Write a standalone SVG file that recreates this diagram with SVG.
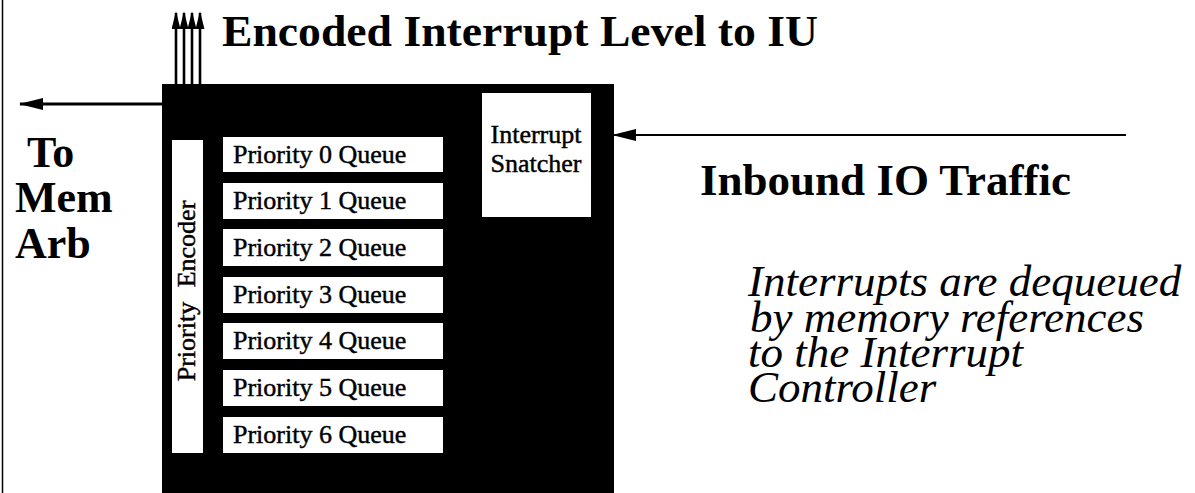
<svg xmlns="http://www.w3.org/2000/svg" width="1195" height="493" viewBox="0 0 1195 493">
  <defs>
    <style>
      .head { font-family: "Liberation Serif", "Times New Roman", serif; font-weight: bold; fill: #000; }
      .q { font-family: "Liberation Serif", "Times New Roman", serif; font-size: 26px; fill: #000; stroke: #000; stroke-width: 0.45; }
      .note { font-family: "Liberation Serif", "Times New Roman", serif; font-style: italic; font-size: 45px; fill: #000; }
      .box { fill: #fff; }
      .wire { stroke: #000; fill: none; }
    </style>
    <!-- narrow head used on the four level lines -->
    <marker id="upHead" viewBox="0 0 20 10" refX="18" refY="5" markerUnits="userSpaceOnUse" markerWidth="18" markerHeight="9" orient="auto">
      <path d="M20,5 L0,0 L0,10 Z" fill="#000"/>
    </marker>
    <!-- flat head for horizontal traffic lines -->
    <marker id="flatHead" viewBox="0 0 24 12" refX="23" refY="6" markerUnits="userSpaceOnUse" markerWidth="24" markerHeight="13" orient="auto">
      <path d="M24,6 L0,0 L0,12 Z" fill="#000"/>
    </marker>
  </defs>

  <rect width="1195" height="493" fill="#fff"/>

  <!-- page edge rule -->
  <line x1="2.5" y1="0" x2="2.5" y2="493" stroke="#000" stroke-width="1.5"/>

  <!-- interrupt controller body -->
  <g id="controller">
    <rect x="162" y="84" width="452" height="409" fill="#000"/>
  </g>

  <g id="priority-encoder">
    <rect class="box" x="172" y="140" width="31" height="313"/>
    <text class="q" transform="translate(195,291) rotate(-90)" text-anchor="middle" font-size="24" word-spacing="8">Priority Encoder</text>
  </g>

  <g id="queues">
    <g id="queue-0"><rect class="box" x="223" y="137" width="220" height="35"/><text class="q" x="233" y="163">Priority 0 Queue</text></g>
    <g id="queue-1"><rect class="box" x="223" y="183" width="220" height="36"/><text class="q" x="233" y="209">Priority 1 Queue</text></g>
    <g id="queue-2"><rect class="box" x="223" y="229" width="220" height="37"/><text class="q" x="233" y="256">Priority 2 Queue</text></g>
    <g id="queue-3"><rect class="box" x="223" y="277" width="220" height="36"/><text class="q" x="233" y="303">Priority 3 Queue</text></g>
    <g id="queue-4"><rect class="box" x="223" y="323" width="220" height="36"/><text class="q" x="233" y="349">Priority 4 Queue</text></g>
    <g id="queue-5"><rect class="box" x="223" y="370" width="220" height="36"/><text class="q" x="233" y="396">Priority 5 Queue</text></g>
    <g id="queue-6"><rect class="box" x="223" y="417" width="220" height="36"/><text class="q" x="233" y="443">Priority 6 Queue</text></g>
  </g>

  <g id="interrupt-snatcher">
    <rect class="box" x="482" y="93" width="109" height="124"/>
    <text class="q" x="536" y="143" text-anchor="middle" font-size="23.5">Interrupt</text>
    <text class="q" x="536" y="172" text-anchor="middle" font-size="23.5">Snatcher</text>
  </g>

  <!-- connectors -->
  <g id="connectors">
    <line class="wire" x1="176" y1="84" x2="176" y2="13" stroke-width="2.6" marker-end="url(#upHead)"/>
    <line class="wire" x1="184" y1="84" x2="184" y2="13" stroke-width="2.6" marker-end="url(#upHead)"/>
    <line class="wire" x1="192" y1="84" x2="192" y2="13" stroke-width="2.6" marker-end="url(#upHead)"/>
    <line class="wire" x1="200" y1="84" x2="200" y2="13" stroke-width="2.6" marker-end="url(#upHead)"/>
    <line class="wire" x1="162" y1="104" x2="20" y2="104" stroke-width="3" marker-end="url(#flatHead)"/>
    <line class="wire" x1="1126" y1="135" x2="613" y2="135" stroke-width="2.2" marker-end="url(#flatHead)"/>
  </g>

  <!-- labels -->
  <text class="head" x="222" y="46" font-size="45" textLength="596" lengthAdjust="spacingAndGlyphs">Encoded Interrupt Level to IU</text>
  <text class="head" x="27" y="167" font-size="44">To</text>
  <text class="head" x="15" y="212" font-size="44">Mem</text>
  <text class="head" x="15" y="258" font-size="44">Arb</text>
  <text class="head" x="700" y="195" font-size="45">Inbound IO Traffic</text>

  <g id="note">
    <text class="note" x="748" y="296">Interrupts are dequeued</text>
    <text class="note" x="750" y="332">by memory references</text>
    <text class="note" x="748" y="367">to the Interrupt</text>
    <text class="note" x="748" y="402">Controller</text>
  </g>
</svg>
